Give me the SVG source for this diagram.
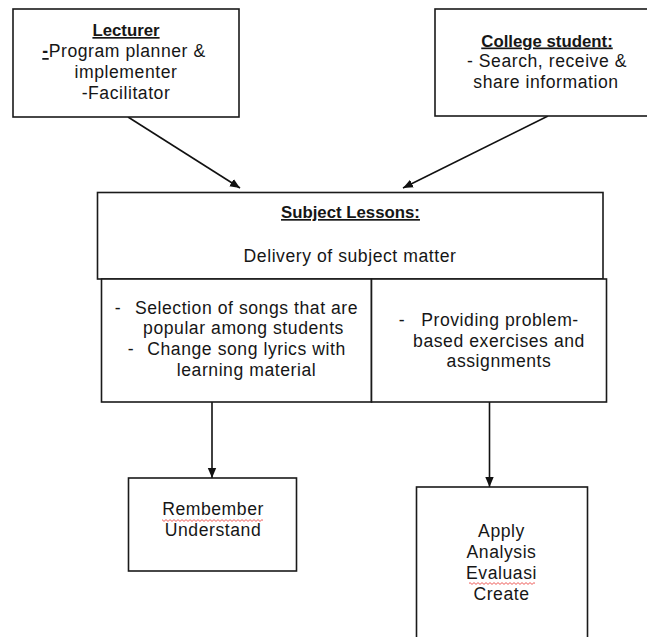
<svg xmlns="http://www.w3.org/2000/svg" width="647" height="637" viewBox="0 0 647 637">
<defs>
<style>
.box{fill:#fff;stroke:#1a1a1a;stroke-width:1.6}
.t{font-family:"Liberation Sans",Arial,sans-serif;font-size:17.6px;letter-spacing:0.55px;fill:#161616;text-anchor:middle}
.b{font-weight:bold;font-size:16.8px;letter-spacing:0;text-decoration:underline}
.conn line{stroke:#111;stroke-width:1.6}
</style>
<marker id="arr" markerUnits="userSpaceOnUse" markerWidth="10" markerHeight="10" refX="10" refY="5" orient="auto">
<path d="M0,0.8 L10,5 L0,9.2 z" fill="#111"/>
</marker>
<pattern id="squig" patternUnits="userSpaceOnUse" width="4" height="3">
<path d="M0,2.4 L2,0.6 L4,2.4" fill="none" stroke="#e8322f" stroke-width="0.8"/>
</pattern>
</defs>
<rect width="647" height="637" fill="#fff"/>

<g class="conn">
<line x1="128" y1="117" x2="240" y2="188" marker-end="url(#arr)"/>
<line x1="548" y1="116" x2="403" y2="188" marker-end="url(#arr)"/>
<line x1="212" y1="402" x2="212" y2="478" marker-end="url(#arr)"/>
<line x1="489.5" y1="402" x2="489.5" y2="487" marker-end="url(#arr)"/>
</g>

<g id="lecturer">
<rect class="box" x="13" y="9" width="226" height="108"/>
<text class="t b" x="126" y="36">Lecturer</text>
<text class="t" x="124" y="57"><tspan font-weight="bold" text-decoration="underline">-</tspan>Program planner &amp;</text>
<text class="t" x="126" y="78">implementer</text>
<text class="t" x="126" y="98.5">-Facilitator</text>
</g>

<g id="college-student">
<rect class="box" x="435" y="9" width="223" height="107"/>
<text class="t b" x="547" y="46.5">College student:</text>
<text class="t" x="547" y="67">- Search, receive &amp;</text>
<text class="t" x="546" y="87.5">share information</text>
</g>

<g id="subject-lessons">
<rect class="box" x="97.5" y="192.5" width="505.5" height="86.5"/>
<text class="t b" x="350.5" y="218">Subject Lessons:</text>
<text class="t" x="350" y="261.5">Delivery of subject matter</text>
</g>

<g id="songs">
<rect class="box" x="101.5" y="279" width="270" height="123"/>
<text class="t" x="118" y="313.5">-</text>
<text class="t" x="246.5" y="313.5">Selection of songs that are</text>
<text class="t" x="243.5" y="334">popular among students</text>
<text class="t" x="131" y="355">-</text>
<text class="t" x="246.5" y="355">Change song lyrics with</text>
<text class="t" x="246.5" y="375.5">learning material</text>
</g>

<g id="exercises">
<rect class="box" x="371.5" y="279" width="235" height="123"/>
<text class="t" x="402" y="325.5">-</text>
<text class="t" x="500" y="325.5">Providing problem-</text>
<text class="t" x="499" y="346.5">based exercises and</text>
<text class="t" x="499" y="367">assignments</text>
</g>

<g id="remember">
<rect class="box" x="128.5" y="478" width="168" height="93"/>
<text class="t" x="213" y="515">Rembember</text>
<rect x="162" y="519" width="101" height="3" fill="url(#squig)"/>
<text class="t" x="213" y="535.5">Understand</text>
</g>

<g id="apply">
<rect class="box" x="416.5" y="487" width="171" height="170"/>
<text class="t" x="501.5" y="537">Apply</text>
<text class="t" x="501.5" y="558">Analysis</text>
<text class="t" x="501.5" y="579">Evaluasi</text>
<rect x="469" y="582" width="66" height="3" fill="url(#squig)"/>
<text class="t" x="501.5" y="600">Create</text>
</g>
</svg>
